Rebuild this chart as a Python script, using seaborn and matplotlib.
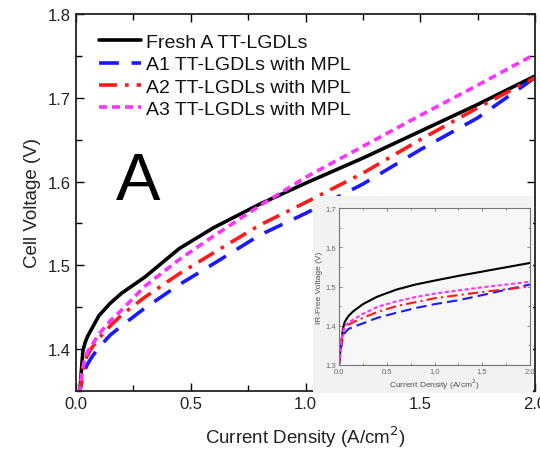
import matplotlib
matplotlib.use("Agg")
import matplotlib.pyplot as plt
import seaborn as sns
import pandas as pd
from matplotlib.ticker import MultipleLocator

sns.set_theme(style="ticks")
plt.rcParams["font.family"] = ["Liberation Sans", "DejaVu Sans"]

# Polarization curves (cell voltage vs current density)
cd_main = [0.0, 0.017, 0.025, 0.03, 0.04, 0.05, 0.07, 0.1, 0.15, 0.2, 0.3,
           0.45, 0.6, 0.8, 1.0, 1.25, 1.5, 1.75, 2.0]
v_fresh = [1.30, 1.350, 1.380, 1.398, 1.408, 1.415, 1.425, 1.440, 1.455, 1.467, 1.486,
           1.520, 1.545, 1.573, 1.598, 1.628, 1.660, 1.692, 1.726]
v_a1 = [1.30, 1.350, 1.360, 1.368, 1.376, 1.382, 1.391, 1.402, 1.417, 1.428, 1.449,
        1.477, 1.502, 1.536, 1.562, 1.597, 1.638, 1.676, 1.724]
v_a2 = [1.30, 1.350, 1.365, 1.375, 1.386, 1.393, 1.402, 1.413, 1.428, 1.441, 1.462,
        1.490, 1.515, 1.548, 1.575, 1.610, 1.650, 1.688, 1.724]
v_a3 = [1.30, 1.350, 1.370, 1.378, 1.390, 1.397, 1.405, 1.418, 1.434, 1.447, 1.475,
        1.507, 1.535, 1.571, 1.605, 1.642, 1.679, 1.715, 1.752]

# IR-free voltage curves
cd_ir = [0.0, 0.02, 0.04, 0.06, 0.1, 0.15, 0.25, 0.4, 0.6, 0.8, 1.0, 1.25, 1.5, 1.75, 2.0]
ir_fresh = [1.30, 1.350, 1.390, 1.410, 1.425, 1.437, 1.455, 1.474, 1.492, 1.505,
            1.515, 1.527, 1.538, 1.549, 1.560]
ir_a1 = [1.30, 1.340, 1.370, 1.382, 1.392, 1.397, 1.406, 1.420, 1.433, 1.445,
         1.455, 1.465, 1.478, 1.492, 1.505]
ir_a2 = [1.30, 1.350, 1.380, 1.395, 1.403, 1.409, 1.420, 1.435, 1.450, 1.460,
         1.470, 1.478, 1.486, 1.493, 1.500]
ir_a3 = [1.30, 1.350, 1.385, 1.400, 1.408, 1.416, 1.430, 1.448, 1.462, 1.473,
         1.482, 1.490, 1.498, 1.505, 1.512]

labels = ["Fresh A TT-LGDLs", "A1 TT-LGDLs with MPL",
          "A2 TT-LGDLs with MPL", "A3 TT-LGDLs with MPL"]
colors = ["black", "#1a1aff", "#ff1a1a", "#ff33ff"]
styles = ["-", (0, (5.5, 3.5)), (0, (5, 2.2, 1, 2.2)), (0, (2.2, 1.4))]
inset_styles = ["-", (0, (5, 2.5)), (0, (5, 2, 1, 2)), (0, (2, 1.2))]

fig = plt.figure(figsize=(5.4, 4.52), dpi=100)
ax = fig.add_axes([76 / 540, 1 - 392 / 452, (535 - 76) / 540, (392 - 15) / 452])

for lab, yv, c, ls in zip(labels, [v_fresh, v_a1, v_a2, v_a3], colors, styles):
    df = pd.DataFrame({"j": cd_main, "v": yv})
    sns.lineplot(data=df, x="j", y="v", ax=ax, color=c, linestyle=ls,
                 linewidth=2.6, label=lab, sort=False)

ax.set_xlim(0, 2.0)
ax.set_ylim(1.35, 1.8)
ax.xaxis.set_major_locator(MultipleLocator(0.5))
ax.xaxis.set_minor_locator(MultipleLocator(0.25))
ax.yaxis.set_major_locator(MultipleLocator(0.1))
ax.yaxis.set_minor_locator(MultipleLocator(0.05))
ax.tick_params(which="both", direction="in", top=True, right=True, width=1.0,
               labelsize=12, colors="black", labelcolor="#222222")
ax.tick_params(which="major", length=6)
ax.tick_params(which="minor", length=4, labelbottom=False, labelleft=False)
ax.set_yticks([1.4, 1.5, 1.6, 1.7, 1.8])
for s in ax.spines.values():
    s.set_linewidth(1.3)
    s.set_color("#222222")
ax.set_xlabel("Current Density (A/cm$^2$)", fontsize=13.5, color="#222222", labelpad=9)
ax.set_ylabel("Cell Voltage (V)", fontsize=13.5, color="#222222", labelpad=5)

ax.text(0.27, 1.60, "A", fontsize=48, ha="center", va="center", color="black")

leg = ax.legend(loc="upper left", frameon=False, fontsize=14, handlelength=2.15,
                handletextpad=0.3, labelspacing=0.25, borderaxespad=0.3,
                bbox_to_anchor=(0.02, 0.985))
for t in leg.get_texts():
    t.set_color("#111111")

# Inset panel with IR-free voltage
panel = fig.add_axes([313 / 540, 1 - 394 / 452, (533 - 313) / 540, (394 - 197) / 452])
panel.set_facecolor("#f2f2f2")
panel.set_xticks([])
panel.set_yticks([])
for s in panel.spines.values():
    s.set_visible(False)
panel.set_zorder(3)

ins = fig.add_axes([339 / 540, 1 - 366 / 452, (530 - 339) / 540, (366 - 209) / 452])
ins.set_zorder(4)
ins.set_facecolor("#f7f7f7")
for lab, yv, c, ls in zip(labels, [ir_fresh, ir_a1, ir_a2, ir_a3], colors, inset_styles):
    df = pd.DataFrame({"j": cd_ir, "v": yv})
    sns.lineplot(data=df, x="j", y="v", ax=ins, color=c, linestyle=ls,
                 linewidth=1.5, sort=False, legend=False)
ins.set_xlim(0, 2.0)
ins.set_ylim(1.3, 1.7)
ins.xaxis.set_major_locator(MultipleLocator(0.5))
ins.xaxis.set_minor_locator(MultipleLocator(0.25))
ins.yaxis.set_major_locator(MultipleLocator(0.1))
ins.yaxis.set_minor_locator(MultipleLocator(0.05))
ins.tick_params(which="both", direction="in", top=True, right=True, width=0.6,
                labelsize=5.5, colors="#777777", labelcolor="#666666", pad=2)
ins.tick_params(which="major", length=2.5)
ins.tick_params(which="minor", length=1.5)
for s in ins.spines.values():
    s.set_linewidth(0.8)
    s.set_color("#777777")
ins.set_xlabel("Current Density (A/cm$^2$)", fontsize=6, color="#555555", labelpad=1)
ins.set_ylabel("IR-Free Voltage (V)", fontsize=6, color="#555555", labelpad=2)

fig.savefig("out.png", dpi=100)
